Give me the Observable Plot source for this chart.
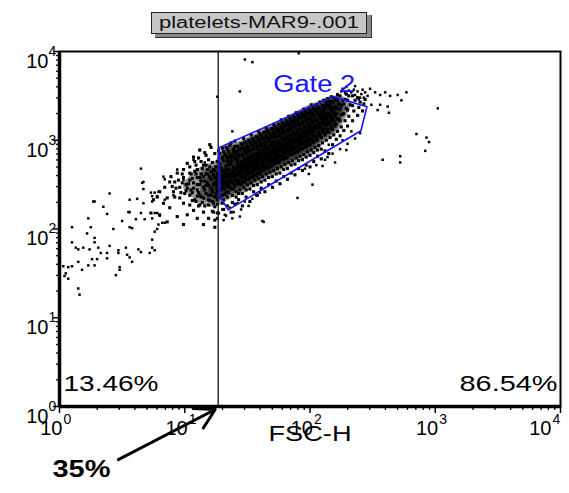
<!DOCTYPE html>
<html><head><meta charset="utf-8">
<script src="https://cdn.jsdelivr.net/npm/d3@7"></script>
<script src="https://cdn.jsdelivr.net/npm/@observablehq/plot@0.6"></script>
<style>
body{margin:0;background:#fff;font-family:"Liberation Sans",Arial,sans-serif;}
#wrap{position:relative;width:569px;height:493px;overflow:hidden;}
#shadow{position:absolute;left:155px;top:15px;width:216px;height:22px;background:#8a8a8a;border-right:1px solid #333;border-bottom:1px solid #333;}
#title{position:absolute;left:151px;top:12px;width:214px;height:20px;background:#c6c6c6;border:1px solid #222;text-align:center;line-height:20px;font-size:16px;color:#111;overflow:visible;white-space:nowrap;}
#title span{display:inline-block;transform:scaleX(1.37);transform-origin:center;}
#chart{position:absolute;left:0;top:0;}
</style></head>
<body><div id="wrap"><div id="chart"></div><div id="shadow"></div><div id="title"><span></span></div></div>
<script>
// ---------- data ----------
const sampleName = "platelets-MAR9-.001";
const xLabel = "FSC-H";
const decades = [0, 1, 2, 3, 4];            // tick exponents, 10^n
const minorMultipliers = [2, 3, 4, 5, 6, 7, 8, 9];
const fscSplit = 18.5;                       // vertical quadrant marker (FSC-H)
const quadrantPercents = ["13.46%", "86.54%"];
const calloutText = "35%";
const gateName = "Gate 2";
const gateFsc = [18.8, 152, 285, 255, 22.2, 19.2];
const gateSsc = [823, 3100, 2390, 1280, 164, 230];
const gateLabelFsc = [108];
const gateLabelSsc = [4250];
const arrowStart = [2.95, 0.252];   // FSC, SSC (below axis)
const arrowEnd = [17.5, 0.925];

// events: pairs "log10(FSC-H)*100 log10(SSC-H)*100"
const tailEvents = `
40 240,25 202,10 202,10 185,15 133,28 231,35 225,38 217,23 212,22 195,28 190,28 185,13 179,15 177,19 179,24 177,
31 179,33 173,40 181,38 173,38 167,30 166,26 166,15 163,10 158,7 157,18 154,23 159,28 159,4 147,7 144,45 148,
48 157,48 154,58 163,54 171,56 168,53 179,47 176,47 173,63 177,65 174,72 173,74 179,76 176,74 188,43 200,50 209,
56 202,58 201,61 211,68 211,65 218,56 219,78 200,76 197,79 205,82 207,80 215,78 218,76 218,74 212,56 233,62 234,
67 229,74 231,74 237,78 237,79 242,76 241,67 245,67 253,84 256,84 233,84 207,16 126,5 150,3 158,
65 268,66 252,73 241,83 259,91 238,94 267,99 255,107 278,112 289,116 275,122 264,55 219,27 231,
0 202,0 185,0 176,0 157`;
const nearLineEvents = `
120 295,121 292,112 289,116 286,107 281,111 280,119 278,122 275,115 272,104 270,99 267,110 267,118 267,123 267,
94 263,99 258,104 255,110 258,115 259,120 259,124 258,88 253,92 253,98 252,107 252,112 250,118 252,123 250,
84 247,102 246,110 244,116 244,122 242,80 242,91 242,106 241,112 238,119 238,124 236,78 236,86 235,96 235,
108 233,115 235,122 231,75 233,83 229,99 229,104 227,112 227,119 227,124 225,88 224,107 221,115 219,123 219,
73 218,80 216,94 214,102 216,110 212,119 212,124 210,86 208,99 205,115 205,124 202,
117 262,121 265,113 262,125 270,126 262,125 250,126 245,109 262,113 254,117 249,121 246,105 262,101 250,96 247,
125 240,120 232,114 230,110 237,105 244,100 240,93 246,89 259,102 274,108 276,117 283,124 285,126 276,126 255,
126 233,126 228,126 218,126 212,
101 243,103 251,104 238,106 257,107 246,108 265,109 231,110 250,111 241,112 258,113 236,114 268,115 247,116 254,
117 240,118 262,119 233,119 249,120 270,121 256,121 238,122 244,123 261,123 229,124 252,124 266,125 236,125 258,
126 242,126 249,106 232,109 272,113 276,117 272,97 241,95 255,92 236,90 248,98 262,116 226,122 220,111 226,104 263`;
const coreEvents = `
127 218,128 236,129 244,128 251,130 257,127 263,129 268,128 274,130 281,127 288,129 247,130 229,
131 222,132 239,131 246,133 253,131 259,132 264,133 271,131 277,132 284,133 292,131 233,132 258,
134 226,135 241,134 248,136 255,134 262,135 267,136 273,134 280,135 287,136 295,134 236,135 251,
137 219,138 238,137 245,139 252,137 259,138 265,139 270,137 276,138 283,139 290,137 297,138 230,
140 228,141 242,140 249,142 255,140 261,141 268,142 274,140 279,141 286,142 293,140 299,141 236,
143 233,144 244,143 251,145 258,143 264,144 270,145 276,143 282,144 289,145 296,143 240,144 262,
146 226,147 247,146 253,148 259,146 266,147 272,148 279,146 284,147 291,148 298,146 240,147 302,
149 236,150 250,149 256,151 262,149 268,150 274,151 281,149 287,150 293,151 300,149 244,150 265,
152 231,153 252,152 258,154 264,152 270,153 277,154 283,152 289,153 296,154 302,152 245,153 306,
155 242,156 255,155 261,157 267,155 273,156 279,157 285,155 291,156 298,157 304,155 249,156 270,
158 238,159 257,158 263,160 269,158 275,159 282,160 288,158 293,159 300,160 307,158 250,159 310,
161 246,162 259,161 265,163 271,161 277,162 284,163 290,161 296,162 302,163 309,161 253,162 274,
164 242,165 262,164 268,166 274,164 280,165 286,166 292,164 298,165 305,166 311,164 255,165 314,
167 250,168 264,167 270,169 276,167 282,168 289,169 295,167 301,168 307,169 313,167 258,168 279,
170 247,171 266,170 272,172 278,170 285,171 291,172 297,170 303,171 309,172 316,170 259,171 318,
173 254,174 268,173 275,175 281,173 287,174 293,175 299,173 305,174 311,175 318,173 262,174 284,
176 251,177 270,176 277,178 283,176 289,177 296,178 302,176 308,177 314,178 320,176 263,177 323,
179 259,180 273,179 279,181 286,179 292,180 298,181 304,179 310,180 316,181 322,179 267,180 289,
182 256,183 275,182 281,184 288,182 294,183 300,184 306,182 312,183 318,184 325,182 268,183 327,
185 263,186 277,185 284,187 290,185 296,186 302,187 308,185 314,186 320,187 327,185 272,186 293,
188 261,189 280,188 286,190 292,188 298,189 305,190 311,188 317,189 323,190 329,188 273,189 331,
191 268,192 282,191 288,193 295,191 301,192 307,193 313,191 319,192 325,193 331,191 277,192 298,
194 266,195 284,194 291,196 297,194 303,195 309,196 315,194 321,195 327,196 333,194 278,195 335,
197 272,198 287,197 293,199 299,197 305,198 311,199 318,197 324,198 330,199 336,197 281,198 302,
200 270,201 289,200 295,202 301,200 308,201 314,202 320,200 326,201 332,202 338,200 283,201 340,
203 276,204 292,203 298,205 304,203 310,204 316,205 322,203 328,204 334,205 340,203 286,
206 282,207 294,206 300,208 307,206 313,207 319,208 325,206 331,207 337,208 343,206 289,
209 279,210 297,209 303,211 309,209 315,210 321,211 327,209 333,210 339,211 345,209 290,
212 288,213 300,212 306,214 312,212 318,213 324,214 330,212 336,213 342,214 347,
215 285,216 303,215 309,217 315,215 321,216 327,217 333,215 339,216 344,217 349,
218 295,219 306,218 312,220 318,218 325,219 331,220 337,218 343,219 348,
221 301,222 310,221 318,223 324,221 330,222 336,223 341,221 346,222 351,
224 305,225 315,224 322,226 329,224 335,225 340,226 345,224 350,
227 311,228 322,227 330,229 336,227 341,228 346,229 352,
230 316,231 327,230 334,232 340,230 345,231 350,
234 322,235 333,234 339,236 345,234 350,
238 328,239 337,240 343,238 348,
242 333,243 341,244 346`;
const coreDenseEvents = `
128 244,128 261,128 270,128 285,130 238,130 254,130 265,130 279,130 291,131 251,131 260,131 287,
133 242,133 258,133 267,133 282,134 249,134 276,134 290,136 247,136 259,136 273,136 283,136 294,
137 253,137 262,137 280,139 245,139 260,139 269,139 287,140 256,140 264,140 282,140 293,
142 251,142 261,142 278,142 288,143 254,143 270,143 284,145 250,145 266,145 272,145 291,
146 259,146 268,146 283,146 295,148 253,148 267,148 275,148 289,149 262,149 270,149 286,149 297,
151 256,151 269,151 277,151 292,152 264,152 272,152 288,152 298,154 258,154 271,154 280,154 295,
155 267,155 275,155 290,155 300,157 260,157 273,157 282,157 297,158 269,158 278,158 291,158 303,
160 262,160 276,160 285,160 300,161 271,161 280,161 294,161 305,163 267,163 276,163 289,163 302,
164 270,164 284,164 294,164 309,166 269,166 278,166 291,166 302,167 276,167 285,167 299,167 309,
169 271,169 280,169 294,169 305,170 276,170 289,170 298,170 313,172 274,172 283,172 296,172 307,
173 280,173 289,173 303,173 313,175 275,175 288,175 297,175 312,176 283,176 292,176 305,176 316,
178 279,178 288,178 301,178 312,179 285,179 294,179 308,179 318,181 280,181 293,181 302,181 317,
182 288,182 297,182 310,182 320,184 284,184 293,184 306,184 317,185 290,185 299,185 312,185 322,
187 285,187 298,187 307,187 321,188 292,188 301,188 315,188 325,190 287,190 300,190 309,190 323,
191 295,191 304,191 317,191 327,193 290,193 303,193 312,193 326,194 297,194 306,194 319,194 329,
196 292,196 305,196 315,196 328,197 300,197 309,197 322,197 331,199 295,199 308,199 317,199 330,
200 302,200 311,200 324,200 333,202 299,202 309,202 322,202 330,203 305,203 314,203 327,203 335,
205 301,205 314,205 323,205 335,207 308,207 317,207 329,207 337,208 305,208 315,208 328,
210 311,210 320,210 332,210 339,211 312,211 325,211 334,213 317,213 326,213 339,
214 309,214 321,214 330,214 343,216 319,216 328,216 341,217 313,217 325,217 336,
219 322,219 332,219 344,220 316,220 328,220 337,222 324,222 336,222 345,225 329,225 339`;
const sparseEvents = `
191 398,148 391,154 388,144 355,126 349,138 310,163 208,132 216,190 235,210 271,202 250,144 214,162 209,
229 289,214 281,285 307,293 303,295 298,292 288,258 278,272 275,272 282,302 336,
242 357,248 358,252 354,256 351,260 354,264 350,270 351,277 354,273 345,256 340,262 338,254 334,263 331,
236 351,240 348,249 340,222 352,225 355,228 353,231 356,226 358,233 354,235 357,238 355,241 352,244 354,
229 360,236 361,246 350,239 346,243 348,
196 268,205 272,212 278,218 285,224 290,230 296,236 302,240 308,199 262,215 295,226 300,233 310,220 275,
130 222,133 215,136 224,139 219,142 229,145 222,148 231,151 226,154 234,157 238,160 241,138 212,131 210`;

// ---------- build tables ----------
const parse = s => s.trim().split(/\s*,\s*/).filter(Boolean).map(p => {
  const [a, b] = p.split(/\s+/).map(Number);
  return {fsc: 10 ** (a / 100), ssc: 10 ** (b / 100)};
});
const scatterEvents = [tailEvents, sparseEvents].flatMap(parse);
const denseEvents = [nearLineEvents, coreEvents, coreDenseEvents].flatMap(parse);
const gatePath = [...gateFsc, gateFsc[0]].map((f, i) => ({fsc: f, ssc: [...gateSsc, gateSsc[0]][i]}));
const majorTicks = decades.map(d => 10 ** d);
const minorTicks = decades.slice(0, 4).flatMap(d => minorMultipliers.map(m => m * 10 ** d));
const font = '"Liberation Sans", Arial, sans-serif';

const svg = Plot.plot({
  width: 569, height: 493,
  marginLeft: 59, marginRight: 9, marginTop: 51, marginBottom: 87,
  x: {type: "log", domain: [1, 1e4], axis: null},
  y: {type: "log", domain: [1, 1e4], axis: null},
  style: {fontFamily: font, background: "white", color: "black", overflow: "visible"},
  marks: [
    Plot.density(denseEvents, {x: "fsc", y: "ssc", fill: "#000", stroke: "none", bandwidth: 4, thresholds: 10}),
    Plot.dot(scatterEvents, {x: "fsc", y: "ssc", symbol: "square", r: 1.4, fill: "black", stroke: null}),
    Plot.dot(denseEvents, {x: "fsc", y: "ssc", symbol: "square", r: 1.75, fill: "black", stroke: null}),
    Plot.ruleX([fscSplit], {stroke: "#222", strokeWidth: 1.4}),
    Plot.line(gatePath, {x: "fsc", y: "ssc", stroke: "#1414ff", strokeWidth: 1.6, curve: "linear"}),
    Plot.text([gateName], {x: gateLabelFsc, y: gateLabelSsc, text: d => d, fill: "#1414ff", fontSize: 23}),
    Plot.frame({stroke: "black", strokeWidth: 2}),
    Plot.ruleX([1], {stroke: "black", strokeWidth: 3.5}),
    Plot.ruleY([1], {stroke: "black", strokeWidth: 3.5}),
    Plot.axisX({ticks: minorTicks, tickSize: 4, tickFormat: () => "", label: null, strokeWidth: 1.3}),
    Plot.axisX({ticks: majorTicks, tickSize: 7, tickFormat: () => "", label: null, strokeWidth: 1.5}),
    Plot.axisY({ticks: minorTicks, tickSize: 3, tickFormat: () => "", label: null, strokeWidth: 1.3}),
    Plot.axisY({ticks: majorTicks, tickSize: 6, tickFormat: () => "", label: null, strokeWidth: 1.5}),
    // x tick labels 10^n
    Plot.text(decades.slice(0, 4), {x: d => 10 ** d, frameAnchor: "bottom", text: () => "10", textAnchor: "end", dx: 3, dy: 28, fontSize: 20}),
    Plot.text(decades.slice(0, 4), {x: d => 10 ** d, frameAnchor: "bottom", text: d => String(d), textAnchor: "start", dx: 4, dy: 17, fontSize: 14}),
    Plot.text(decades.slice(4), {x: d => 10 ** d, frameAnchor: "bottom", text: () => "10", textAnchor: "end", dx: -9, dy: 28, fontSize: 20}),
    Plot.text(decades.slice(4), {x: d => 10 ** d, frameAnchor: "bottom", text: d => String(d), textAnchor: "start", dx: -8, dy: 17, fontSize: 14}),
    // y tick labels 10^n
    Plot.text(decades, {y: d => 10 ** d, frameAnchor: "left", text: () => "10", textAnchor: "end", dx: -11, dy: 10, fontSize: 20}),
    Plot.text(decades, {y: d => 10 ** d, frameAnchor: "left", text: d => String(d), textAnchor: "start", dx: -11, dy: 0, fontSize: 14}),
    // quadrant percentages
    Plot.text([quadrantPercents[0]], {frameAnchor: "bottom-left", text: d => d, textAnchor: "start", dx: 4, dy: -16, fontSize: 22}),
    Plot.text([quadrantPercents[1]], {frameAnchor: "bottom-right", text: d => d, textAnchor: "end", dx: -3, dy: -16, fontSize: 22}),
    Plot.text([xLabel], {frameAnchor: "bottom", text: d => d, textAnchor: "middle", dy: 34, fontSize: 22}),
    Plot.arrow([{x1: arrowStart[0], y1: arrowStart[1], x2: arrowEnd[0], y2: arrowEnd[1]}], {x1: "x1", y1: "y1", x2: "x2", y2: "y2", stroke: "black", strokeWidth: 3, headLength: 11}),
    Plot.text([calloutText], {frameAnchor: "bottom-left", text: d => d, textAnchor: "middle", dx: 22, dy: 70, fontSize: 24, fontWeight: "bold"})
  ]
});
// keep only the upper density levels, semi-opaque, so the core darkens with event density
const densityPaths = d3.select(svg).selectAll('g[aria-label="density"] path').nodes();
const keepFrom = Math.floor(densityPaths.length * 0.4);
densityPaths.forEach((p, i) => {
  if (i < keepFrom) p.setAttribute("fill", "none");
  else p.setAttribute("fill-opacity", "0.4");
});

const widths = {"Gate 2": 82, "13.46%": 95, "86.54%": 98, "FSC-H": 83, "35%": 58};
d3.select(svg).selectAll("text").each(function () {
  const t = this.textContent;
  if (this.childElementCount === 0 && widths[t]) {
    d3.select(this).attr("textLength", widths[t]).attr("lengthAdjust", "spacingAndGlyphs");
  }
});
document.getElementById("chart").appendChild(svg);
document.querySelector("#title span").textContent = sampleName;
</script></body></html>
